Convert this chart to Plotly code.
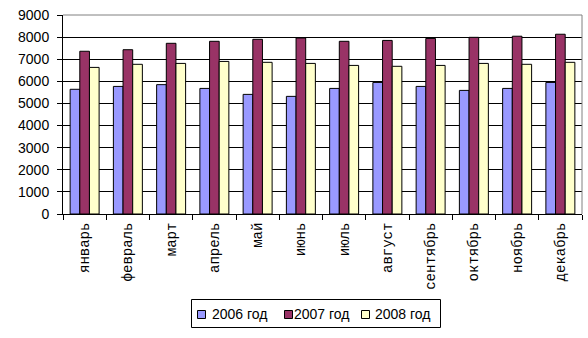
import plotly.graph_objects as go

months = ["январь", "февраль", "март", "апрель", "май", "июнь",
          "июль", "август", "сентябрь", "октябрь", "ноябрь", "декабрь"]
y2006 = [5640, 5770, 5850, 5680, 5410, 5320, 5680, 5950, 5770, 5590, 5680, 5950]
y2007 = [7360, 7430, 7720, 7810, 7900, 7960, 7810, 7850, 7940, 7990, 8040, 8130]
y2008 = [6630, 6770, 6810, 6900, 6860, 6810, 6720, 6680, 6720, 6810, 6770, 6860]
series_names = ["2006 год", "2007 год", "2008 год"]
colors = ["#9999FF", "#993366", "#FFFFCC"]

W, H = 588, 338
ML, MR, MT, MB = 63, 6, 15, 124
PW, PH = W - ML - MR, H - MT - MB


def px_x(x):
    """Pixel column -> paper x."""
    return (x - ML) / PW


def px_y(y):
    """Pixel row -> paper y."""
    return (H - MB - y) / PH


fig = go.Figure()
for name, vals, col in zip(series_names, [y2006, y2007, y2008], colors):
    fig.add_trace(go.Bar(
        x=months, y=vals, name=name,
        marker=dict(color=col, line=dict(color="black", width=1)),
    ))

# Legend box below the chart: bordered frame, swatches and labels
shapes = [
    dict(type="line", xref="paper", yref="paper", x0=0, x1=1, y0=1, y1=1,
         line=dict(color="#808080", width=1), layer="above"),
    dict(type="line", xref="paper", yref="paper", x0=1, x1=1, y0=0, y1=1,
         line=dict(color="#808080", width=1), layer="above"),
    dict(type="rect", xref="paper", yref="paper",
         x0=px_x(191.5), x1=px_x(440.5), y0=px_y(299.5), y1=px_y(327.5),
         line=dict(color="black", width=1), fillcolor="white"),
]
annotations = []
swatch_left = [197, 284, 361]
label_left = [210, 292, 373]
for sx, tx, name, col in zip(swatch_left, label_left, series_names, colors):
    shapes.append(dict(
        type="rect", xref="paper", yref="paper",
        x0=px_x(sx + 0.5), x1=px_x(sx + 8.5), y0=px_y(310.5), y1=px_y(318.5),
        line=dict(color="black", width=1), fillcolor=col,
    ))
    annotations.append(dict(
        xref="paper", yref="paper", x=px_x(tx), y=px_y(314),
        xanchor="left", yanchor="middle", showarrow=False, text=name,
        font=dict(family="Liberation Sans, Arial", size=14, color="black"),
    ))

fig.update_layout(
    width=W, height=H,
    margin=dict(l=ML, r=MR, t=MT, b=MB),
    paper_bgcolor="white", plot_bgcolor="white",
    barmode="group", bargap=0.33, bargroupgap=0,
    font=dict(family="Liberation Sans, Arial", size=14, color="black"),
    showlegend=False,
    shapes=shapes,
    annotations=annotations,
)
fig.update_xaxes(
    type="category", tickangle=-90, tickson="boundaries",
    ticks="outside", ticklen=5, tickcolor="black",
    showline=True, linecolor="black", linewidth=1, showgrid=False,
    tickfont=dict(family="Liberation Mono, Courier New", size=14),
    ticklabelstandoff=2,
)
fig.update_yaxes(
    range=[0, 9000], dtick=1000, tick0=0,
    ticks="outside", ticklen=5, tickcolor="black",
    showline=True, linecolor="black", linewidth=1,
    showgrid=True, gridcolor="black", gridwidth=1, zeroline=False,
    tickfont=dict(family="Liberation Sans, Arial", size=14),
    ticklabelstandoff=5,
)

fig.write_html("out.html")
